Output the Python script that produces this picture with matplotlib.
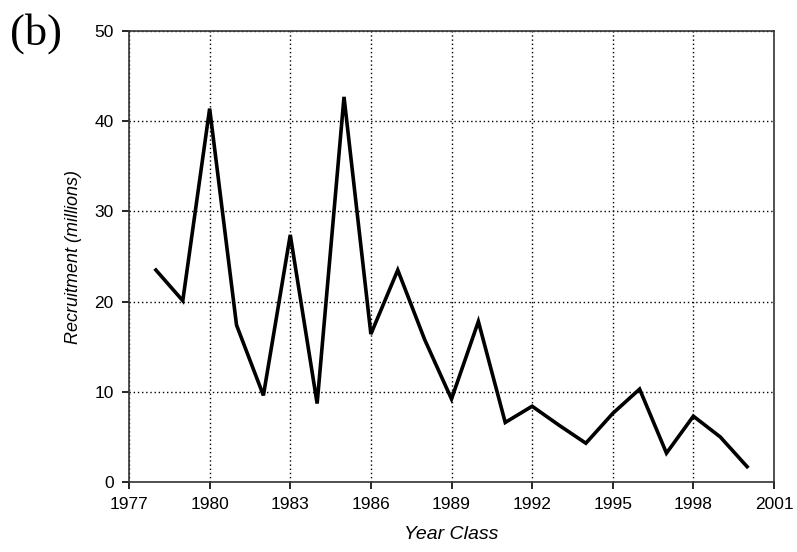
import matplotlib.pyplot as plt

years = list(range(1978, 2001))
recruitment = [23.5, 20.1, 41.4, 17.4, 9.6, 27.4, 8.7, 42.7, 16.4, 23.5,
               15.8, 9.2, 17.8, 6.6, 8.4, 6.3, 4.3, 7.6, 10.3, 3.2,
               7.3, 5.0, 1.7]
xticks = list(range(1977, 2002, 3))
yticks = [0, 10, 20, 30, 40, 50]

plt.rcParams['font.family'] = ['Liberation Sans', 'DejaVu Sans']

fig = plt.figure(figsize=(7.97, 5.52), dpi=100)
ax = fig.add_axes([0.1619, 0.1268, 0.8092, 0.817])

ax.plot(years, recruitment, color='black', linewidth=2.6, solid_joinstyle='miter')

ax.set_xlim(1977, 2001)
ax.set_ylim(0, 50)
ax.set_xticks(xticks)
ax.set_yticks(yticks)
ax.grid(True, color='black', linestyle=(0, (1, 2)), linewidth=1.0)
ax.tick_params(direction='out', length=5, width=1.2, labelsize=12.5, colors='black', pad=6)
for s in ax.spines.values():
    s.set_linewidth(1.2)
    s.set_color('#333333')

ax.set_xlabel('Year Class', fontsize=14, style='italic', labelpad=10)
ax.set_ylabel('Recruitment (millions)', fontsize=13, style='italic', labelpad=9)

fig.text(0.013, 0.94, '(b)', fontsize=32, family='Liberation Serif', va='center')

fig.savefig('out.png', dpi=100)
